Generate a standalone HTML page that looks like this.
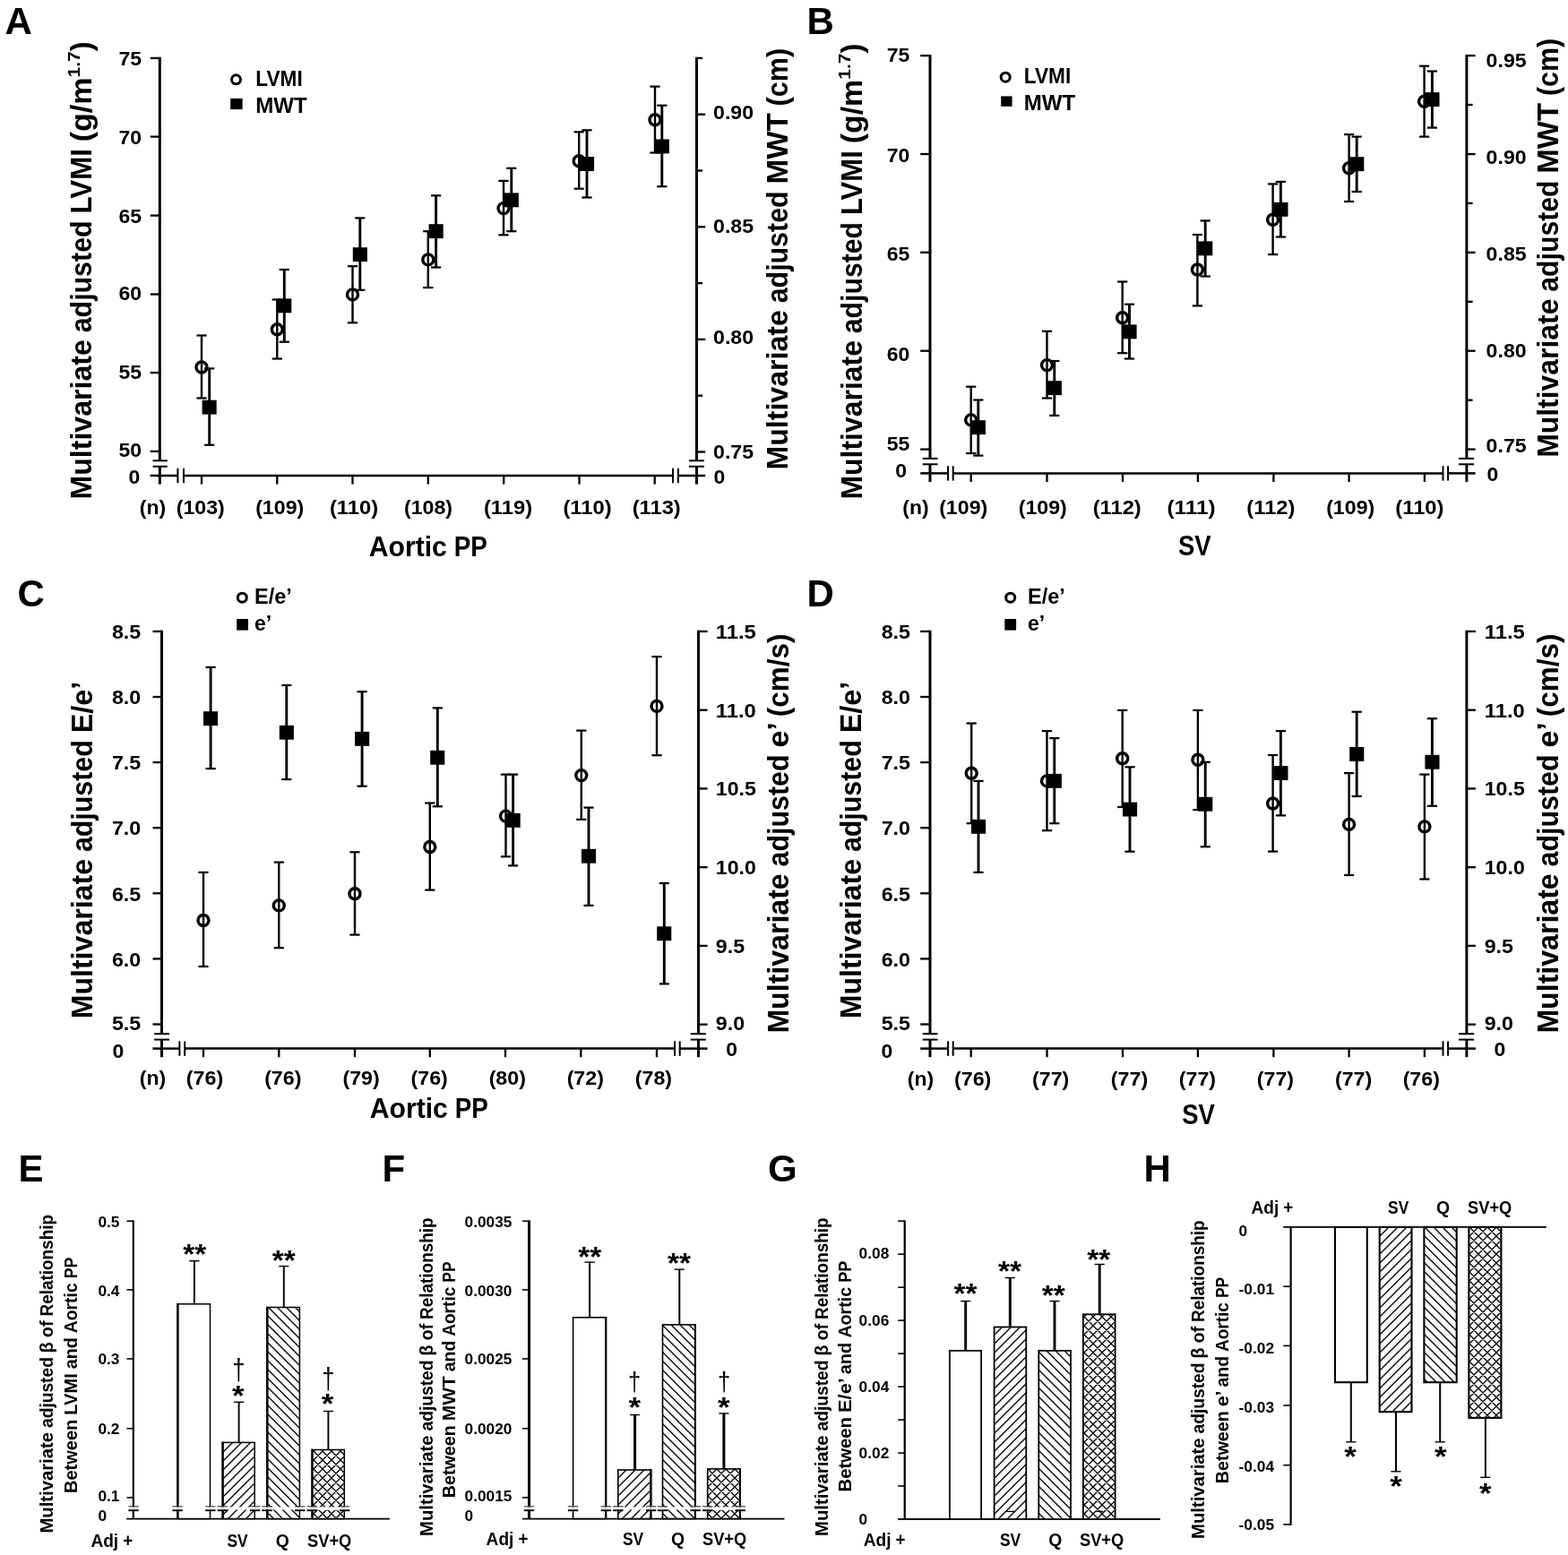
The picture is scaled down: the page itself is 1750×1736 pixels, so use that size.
<!DOCTYPE html>
<html><head><meta charset="utf-8"><title>Figure</title>
<style>
html,body{margin:0;padding:0;background:#fff;}
body{width:1750px;height:1736px;overflow:hidden;}
svg{display:block;}
svg text{font-family:"Liberation Sans",sans-serif;font-weight:bold;fill:#000;}
svg text.L{font-weight:bold;}
svg text.D{font-family:"Liberation Sans",sans-serif;font-weight:normal;}
svg line{stroke:#000;}
</style></head><body>
<svg width="1750" height="1736" viewBox="0 0 1750 1736">
<defs>
<pattern id="h1" width="10" height="10" patternUnits="userSpaceOnUse"><rect width="10" height="10" fill="#fff"/><path d="M-1 11L11 -1M-1 1L1 -1M9 11L11 9" stroke="#000" stroke-width="1.35"/></pattern>
<pattern id="h2" width="10" height="10" patternUnits="userSpaceOnUse"><rect width="10" height="10" fill="#fff"/><path d="M-1 -1L11 11M9 -1L11 1M-1 9L1 11" stroke="#000" stroke-width="1.35"/></pattern>
<pattern id="h3" width="10" height="10" patternUnits="userSpaceOnUse"><rect width="10" height="10" fill="#fff"/><path d="M-1 11L11 -1M-1 1L1 -1M9 11L11 9M-1 -1L11 11M9 -1L11 1M-1 9L1 11" stroke="#000" stroke-width="1.35"/></pattern>
</defs>
<rect x="0" y="0" width="1750" height="1736" fill="#fff"/>
<text x="5.6" y="37.7" font-size="42" class="L">A</text>
<text x="900.5" y="37.7" font-size="42" class="L">B</text>
<text x="19.5" y="677.0" font-size="42" class="L">C</text>
<text x="900.5" y="676.7" font-size="42" class="L">D</text>
<text x="20.5" y="1319.2" font-size="42" class="L">E</text>
<text x="426.5" y="1319.2" font-size="42" class="L">F</text>
<text x="857.0" y="1319.4" font-size="42" class="L">G</text>
<text x="1276.5" y="1319.2" font-size="42" class="L">H</text>
<line x1="178.3" y1="63.8" x2="178.3" y2="514.3" stroke-width="3.0"/>
<line x1="178.3" y1="520.8" x2="178.3" y2="540.6" stroke-width="3.0"/>
<line x1="167.7" y1="64.9" x2="178.3" y2="64.9" stroke-width="2.3"/>
<line x1="167.7" y1="152.6" x2="178.3" y2="152.6" stroke-width="2.3"/>
<line x1="167.7" y1="240.6" x2="178.3" y2="240.6" stroke-width="2.3"/>
<line x1="167.7" y1="328.5" x2="178.3" y2="328.5" stroke-width="2.3"/>
<line x1="167.7" y1="416.1" x2="178.3" y2="416.1" stroke-width="2.3"/>
<line x1="167.7" y1="503.9" x2="178.3" y2="503.9" stroke-width="2.3"/>
<line x1="170.5" y1="514.3" x2="186.8" y2="514.3" stroke-width="2.0"/>
<line x1="170.5" y1="520.8" x2="186.8" y2="520.8" stroke-width="2.0"/>
<line x1="777.5" y1="63.8" x2="777.5" y2="514.3" stroke-width="3.0"/>
<line x1="777.5" y1="520.8" x2="777.5" y2="540.6" stroke-width="3.0"/>
<line x1="777.5" y1="64.9" x2="784.2" y2="64.9" stroke-width="2.3"/>
<line x1="777.5" y1="127.7" x2="787.2" y2="127.7" stroke-width="2.3"/>
<line x1="777.5" y1="190.5" x2="784.2" y2="190.5" stroke-width="2.3"/>
<line x1="777.5" y1="253.3" x2="787.2" y2="253.3" stroke-width="2.3"/>
<line x1="777.5" y1="316.1" x2="784.2" y2="316.1" stroke-width="2.3"/>
<line x1="777.5" y1="378.9" x2="787.2" y2="378.9" stroke-width="2.3"/>
<line x1="777.5" y1="441.7" x2="784.2" y2="441.7" stroke-width="2.3"/>
<line x1="777.5" y1="504.5" x2="787.2" y2="504.5" stroke-width="2.3"/>
<line x1="769.0" y1="514.3" x2="785.8" y2="514.3" stroke-width="2.0"/>
<line x1="769.0" y1="520.8" x2="785.8" y2="520.8" stroke-width="2.0"/>
<line x1="167.7" y1="531.0" x2="198.4" y2="531.0" stroke-width="2.5"/>
<line x1="205.0" y1="531.0" x2="751.0" y2="531.0" stroke-width="2.5"/>
<line x1="756.9" y1="531.0" x2="787.2" y2="531.0" stroke-width="2.5"/>
<line x1="198.4" y1="522.8" x2="198.4" y2="539.2" stroke-width="2.0"/>
<line x1="205.0" y1="522.8" x2="205.0" y2="539.2" stroke-width="2.0"/>
<line x1="751.0" y1="522.8" x2="751.0" y2="539.2" stroke-width="2.0"/>
<line x1="756.9" y1="522.8" x2="756.9" y2="539.2" stroke-width="2.0"/>
<line x1="225.0" y1="531.0" x2="225.0" y2="540.6" stroke-width="2.3"/>
<line x1="309.3" y1="531.0" x2="309.3" y2="540.6" stroke-width="2.3"/>
<line x1="393.5" y1="531.0" x2="393.5" y2="540.6" stroke-width="2.3"/>
<line x1="477.8" y1="531.0" x2="477.8" y2="540.6" stroke-width="2.3"/>
<line x1="562.2" y1="531.0" x2="562.2" y2="540.6" stroke-width="2.3"/>
<line x1="646.5" y1="531.0" x2="646.5" y2="540.6" stroke-width="2.3"/>
<line x1="730.7" y1="531.0" x2="730.7" y2="540.6" stroke-width="2.3"/>
<text x="158.0" y="72.8" font-size="22.94" text-anchor="end" textLength="25.6" lengthAdjust="spacingAndGlyphs">75</text>
<text x="158.0" y="161.1" font-size="22.94" text-anchor="end" textLength="25.6" lengthAdjust="spacingAndGlyphs">70</text>
<text x="158.0" y="248.6" font-size="22.94" text-anchor="end" textLength="25.6" lengthAdjust="spacingAndGlyphs">65</text>
<text x="158.0" y="335.3" font-size="22.94" text-anchor="end" textLength="25.6" lengthAdjust="spacingAndGlyphs">60</text>
<text x="158.0" y="422.8" font-size="22.94" text-anchor="end" textLength="25.6" lengthAdjust="spacingAndGlyphs">55</text>
<text x="158.0" y="509.7" font-size="22.94" text-anchor="end" textLength="25.6" lengthAdjust="spacingAndGlyphs">50</text>
<text x="156.4" y="539.9" font-size="22.94" text-anchor="end" textLength="12.8" lengthAdjust="spacingAndGlyphs">0</text>
<text x="796.0" y="132.9" font-size="22.94" text-anchor="start" textLength="45.1" lengthAdjust="spacingAndGlyphs">0.90</text>
<text x="796.0" y="260.2" font-size="22.94" text-anchor="start" textLength="45.1" lengthAdjust="spacingAndGlyphs">0.85</text>
<text x="796.0" y="383.7" font-size="22.94" text-anchor="start" textLength="45.1" lengthAdjust="spacingAndGlyphs">0.80</text>
<text x="796.0" y="511.6" font-size="22.94" text-anchor="start" textLength="45.1" lengthAdjust="spacingAndGlyphs">0.75</text>
<text x="796.4" y="539.9" font-size="22.94" text-anchor="start" textLength="12.8" lengthAdjust="spacingAndGlyphs">0</text>
<text x="170.4" y="574.2" font-size="22.94" text-anchor="middle" textLength="29.3" lengthAdjust="spacingAndGlyphs">(n)</text>
<text x="223.8" y="574.2" font-size="22.94" text-anchor="middle" textLength="54.1" lengthAdjust="spacingAndGlyphs">(103)</text>
<text x="312.2" y="574.2" font-size="22.94" text-anchor="middle" textLength="54.1" lengthAdjust="spacingAndGlyphs">(109)</text>
<text x="395.0" y="574.2" font-size="22.94" text-anchor="middle" textLength="54.1" lengthAdjust="spacingAndGlyphs">(110)</text>
<text x="478.0" y="574.2" font-size="22.94" text-anchor="middle" textLength="54.1" lengthAdjust="spacingAndGlyphs">(108)</text>
<text x="567.0" y="574.2" font-size="22.94" text-anchor="middle" textLength="54.1" lengthAdjust="spacingAndGlyphs">(119)</text>
<text x="655.5" y="574.2" font-size="22.94" text-anchor="middle" textLength="54.1" lengthAdjust="spacingAndGlyphs">(110)</text>
<text x="732.7" y="574.2" font-size="22.94" text-anchor="middle" textLength="54.1" lengthAdjust="spacingAndGlyphs">(113)</text>
<text font-size="31.45"><tspan x="411.7" y="620.8" textLength="87.2" lengthAdjust="spacingAndGlyphs">Aortic</tspan> <tspan x="506.8" y="620.8" textLength="37.1" lengthAdjust="spacingAndGlyphs">PP</tspan></text>
<text transform="translate(102.4 557.5) rotate(-90)" font-size="32.43"><tspan x="0.0" y="0.0" textLength="178.3" lengthAdjust="spacingAndGlyphs">Multivariate</tspan> <tspan x="186.2" y="0.0" textLength="124.9" lengthAdjust="spacingAndGlyphs">adjusted</tspan> <tspan x="319.0" y="0.0" textLength="72.4" lengthAdjust="spacingAndGlyphs">LVMI</tspan> <tspan x="399.2" y="0.0" textLength="71.9" lengthAdjust="spacingAndGlyphs">(g/m</tspan></text>
<text x="0" y="0" transform="translate(88.7 86.4) rotate(-90)" font-size="18.22" text-anchor="start" textLength="29.2" lengthAdjust="spacingAndGlyphs">1.7</text>
<text x="0" y="0" transform="translate(102.4 57.2) rotate(-90)" font-size="32.43" text-anchor="start" textLength="10.9" lengthAdjust="spacingAndGlyphs">)</text>
<text transform="translate(878.6 524.5) rotate(-90)" font-size="32.43"><tspan x="0.0" y="0.0" textLength="178.3" lengthAdjust="spacingAndGlyphs">Multivariate</tspan> <tspan x="186.2" y="0.0" textLength="124.9" lengthAdjust="spacingAndGlyphs">adjusted</tspan> <tspan x="319.0" y="0.0" textLength="79.3" lengthAdjust="spacingAndGlyphs">MWT</tspan> <tspan x="406.1" y="0.0" textLength="64.6" lengthAdjust="spacingAndGlyphs">(cm)</tspan></text>
<circle cx="263.5" cy="88.8" r="5.0" fill="none" stroke="#000" stroke-width="3.0"/>
<text x="285.3" y="96.2" font-size="23.79" text-anchor="start" textLength="52.4" lengthAdjust="spacingAndGlyphs">LVMI</text>
<rect x="257.2" y="109.9" width="13.4" height="12.2" fill="#000"/>
<text x="285.3" y="125.9" font-size="23.79" text-anchor="start" textLength="57.5" lengthAdjust="spacingAndGlyphs">MWT</text>
<line x1="225.0" y1="374.5" x2="225.0" y2="444.5" stroke-width="2.4"/>
<line x1="219.4" y1="374.5" x2="230.6" y2="374.5" stroke-width="2.2"/>
<line x1="219.4" y1="444.5" x2="230.6" y2="444.5" stroke-width="2.2"/>
<line x1="233.7" y1="411.4" x2="233.7" y2="496.8" stroke-width="2.9"/>
<line x1="228.1" y1="411.4" x2="239.3" y2="411.4" stroke-width="2.2"/>
<line x1="228.1" y1="496.8" x2="239.3" y2="496.8" stroke-width="2.2"/>
<line x1="309.3" y1="334.4" x2="309.3" y2="400.5" stroke-width="2.4"/>
<line x1="303.7" y1="334.4" x2="314.9" y2="334.4" stroke-width="2.2"/>
<line x1="303.7" y1="400.5" x2="314.9" y2="400.5" stroke-width="2.2"/>
<line x1="317.3" y1="301.0" x2="317.3" y2="381.7" stroke-width="2.9"/>
<line x1="311.7" y1="301.0" x2="322.9" y2="301.0" stroke-width="2.2"/>
<line x1="311.7" y1="381.7" x2="322.9" y2="381.7" stroke-width="2.2"/>
<line x1="393.5" y1="297.2" x2="393.5" y2="360.3" stroke-width="2.4"/>
<line x1="387.9" y1="297.2" x2="399.1" y2="297.2" stroke-width="2.2"/>
<line x1="387.9" y1="360.3" x2="399.1" y2="360.3" stroke-width="2.2"/>
<line x1="401.8" y1="243.4" x2="401.8" y2="323.8" stroke-width="2.9"/>
<line x1="396.2" y1="243.4" x2="407.4" y2="243.4" stroke-width="2.2"/>
<line x1="396.2" y1="323.8" x2="407.4" y2="323.8" stroke-width="2.2"/>
<line x1="477.8" y1="258.2" x2="477.8" y2="321.1" stroke-width="2.4"/>
<line x1="472.2" y1="258.2" x2="483.4" y2="258.2" stroke-width="2.2"/>
<line x1="472.2" y1="321.1" x2="483.4" y2="321.1" stroke-width="2.2"/>
<line x1="486.6" y1="218.3" x2="486.6" y2="298.5" stroke-width="2.9"/>
<line x1="481.0" y1="218.3" x2="492.2" y2="218.3" stroke-width="2.2"/>
<line x1="481.0" y1="298.5" x2="492.2" y2="298.5" stroke-width="2.2"/>
<line x1="562.0" y1="201.9" x2="562.0" y2="262.3" stroke-width="2.4"/>
<line x1="556.4" y1="201.9" x2="567.6" y2="201.9" stroke-width="2.2"/>
<line x1="556.4" y1="262.3" x2="567.6" y2="262.3" stroke-width="2.2"/>
<line x1="570.8" y1="187.8" x2="570.8" y2="258.2" stroke-width="2.9"/>
<line x1="565.2" y1="187.8" x2="576.4" y2="187.8" stroke-width="2.2"/>
<line x1="565.2" y1="258.2" x2="576.4" y2="258.2" stroke-width="2.2"/>
<line x1="646.2" y1="147.3" x2="646.2" y2="210.7" stroke-width="2.4"/>
<line x1="640.6" y1="147.3" x2="651.8" y2="147.3" stroke-width="2.2"/>
<line x1="640.6" y1="210.7" x2="651.8" y2="210.7" stroke-width="2.2"/>
<line x1="655.0" y1="145.3" x2="655.0" y2="220.5" stroke-width="2.9"/>
<line x1="649.4" y1="145.3" x2="660.6" y2="145.3" stroke-width="2.2"/>
<line x1="649.4" y1="220.5" x2="660.6" y2="220.5" stroke-width="2.2"/>
<line x1="731.0" y1="96.6" x2="731.0" y2="170.5" stroke-width="2.4"/>
<line x1="725.4" y1="96.6" x2="736.6" y2="96.6" stroke-width="2.2"/>
<line x1="725.4" y1="170.5" x2="736.6" y2="170.5" stroke-width="2.2"/>
<line x1="738.8" y1="117.7" x2="738.8" y2="208.2" stroke-width="2.9"/>
<line x1="733.2" y1="117.7" x2="744.4" y2="117.7" stroke-width="2.2"/>
<line x1="733.2" y1="208.2" x2="744.4" y2="208.2" stroke-width="2.2"/>
<rect x="225.6" y="446.7" width="16.1" height="15.9" fill="#000" stroke="none"/>
<circle cx="225.0" cy="410.0" r="6.0" fill="none" stroke="#000" stroke-width="3.4"/>
<rect x="309.2" y="333.4" width="16.1" height="15.9" fill="#000" stroke="none"/>
<circle cx="309.3" cy="367.8" r="6.0" fill="none" stroke="#000" stroke-width="3.4"/>
<rect x="393.8" y="276.2" width="16.1" height="15.9" fill="#000" stroke="none"/>
<circle cx="393.5" cy="328.9" r="6.0" fill="none" stroke="#000" stroke-width="3.4"/>
<rect x="478.6" y="250.2" width="16.1" height="15.9" fill="#000" stroke="none"/>
<circle cx="477.8" cy="289.9" r="6.0" fill="none" stroke="#000" stroke-width="3.4"/>
<rect x="562.8" y="215.4" width="16.1" height="15.9" fill="#000" stroke="none"/>
<circle cx="562.0" cy="232.6" r="6.0" fill="none" stroke="#000" stroke-width="3.4"/>
<rect x="647.0" y="175.1" width="16.1" height="15.9" fill="#000" stroke="none"/>
<circle cx="646.2" cy="179.8" r="6.0" fill="none" stroke="#000" stroke-width="3.4"/>
<rect x="730.8" y="155.5" width="16.1" height="15.9" fill="#000" stroke="none"/>
<circle cx="731.0" cy="133.8" r="6.0" fill="none" stroke="#000" stroke-width="3.4"/>
<line x1="1038.0" y1="61.0" x2="1038.0" y2="511.9" stroke-width="3.0"/>
<line x1="1038.0" y1="518.3" x2="1038.0" y2="538.0" stroke-width="3.0"/>
<line x1="1027.2" y1="62.1" x2="1038.0" y2="62.1" stroke-width="2.3"/>
<line x1="1027.2" y1="172.0" x2="1038.0" y2="172.0" stroke-width="2.3"/>
<line x1="1027.2" y1="281.8" x2="1038.0" y2="281.8" stroke-width="2.3"/>
<line x1="1027.2" y1="391.7" x2="1038.0" y2="391.7" stroke-width="2.3"/>
<line x1="1027.2" y1="501.6" x2="1038.0" y2="501.6" stroke-width="2.3"/>
<line x1="1029.7" y1="511.9" x2="1046.5" y2="511.9" stroke-width="2.0"/>
<line x1="1029.7" y1="518.3" x2="1046.5" y2="518.3" stroke-width="2.0"/>
<line x1="1636.9" y1="61.0" x2="1636.9" y2="511.9" stroke-width="3.0"/>
<line x1="1636.9" y1="518.3" x2="1636.9" y2="538.0" stroke-width="3.0"/>
<line x1="1636.9" y1="62.1" x2="1646.6" y2="62.1" stroke-width="2.3"/>
<line x1="1636.9" y1="117.0" x2="1643.6" y2="117.0" stroke-width="2.3"/>
<line x1="1636.9" y1="172.0" x2="1646.6" y2="172.0" stroke-width="2.3"/>
<line x1="1636.9" y1="226.9" x2="1643.6" y2="226.9" stroke-width="2.3"/>
<line x1="1636.9" y1="281.9" x2="1646.6" y2="281.9" stroke-width="2.3"/>
<line x1="1636.9" y1="336.8" x2="1643.6" y2="336.8" stroke-width="2.3"/>
<line x1="1636.9" y1="391.7" x2="1646.6" y2="391.7" stroke-width="2.3"/>
<line x1="1636.9" y1="446.7" x2="1643.6" y2="446.7" stroke-width="2.3"/>
<line x1="1636.9" y1="501.6" x2="1646.6" y2="501.6" stroke-width="2.3"/>
<line x1="1628.0" y1="511.9" x2="1645.2" y2="511.9" stroke-width="2.0"/>
<line x1="1628.0" y1="518.3" x2="1645.2" y2="518.3" stroke-width="2.0"/>
<line x1="1027.2" y1="528.4" x2="1058.1" y2="528.4" stroke-width="2.5"/>
<line x1="1063.7" y1="528.4" x2="1610.5" y2="528.4" stroke-width="2.5"/>
<line x1="1616.1" y1="528.4" x2="1646.6" y2="528.4" stroke-width="2.5"/>
<line x1="1058.1" y1="520.2" x2="1058.1" y2="536.6" stroke-width="2.0"/>
<line x1="1063.7" y1="520.2" x2="1063.7" y2="536.6" stroke-width="2.0"/>
<line x1="1610.5" y1="520.2" x2="1610.5" y2="536.6" stroke-width="2.0"/>
<line x1="1616.1" y1="520.2" x2="1616.1" y2="536.6" stroke-width="2.0"/>
<line x1="1083.7" y1="528.4" x2="1083.7" y2="538.0" stroke-width="2.3"/>
<line x1="1168.5" y1="528.4" x2="1168.5" y2="538.0" stroke-width="2.3"/>
<line x1="1253.0" y1="528.4" x2="1253.0" y2="538.0" stroke-width="2.3"/>
<line x1="1336.9" y1="528.4" x2="1336.9" y2="538.0" stroke-width="2.3"/>
<line x1="1421.4" y1="528.4" x2="1421.4" y2="538.0" stroke-width="2.3"/>
<line x1="1505.6" y1="528.4" x2="1505.6" y2="538.0" stroke-width="2.3"/>
<line x1="1589.9" y1="528.4" x2="1589.9" y2="538.0" stroke-width="2.3"/>
<text x="1015.4" y="69.4" font-size="22.94" text-anchor="end" textLength="25.6" lengthAdjust="spacingAndGlyphs">75</text>
<text x="1015.4" y="180.8" font-size="22.94" text-anchor="end" textLength="25.6" lengthAdjust="spacingAndGlyphs">70</text>
<text x="1015.4" y="291.2" font-size="22.94" text-anchor="end" textLength="25.6" lengthAdjust="spacingAndGlyphs">65</text>
<text x="1015.4" y="403.3" font-size="22.94" text-anchor="end" textLength="25.6" lengthAdjust="spacingAndGlyphs">60</text>
<text x="1015.4" y="503.2" font-size="22.94" text-anchor="end" textLength="25.6" lengthAdjust="spacingAndGlyphs">55</text>
<text x="1012.0" y="532.8" font-size="22.94" text-anchor="end" textLength="12.8" lengthAdjust="spacingAndGlyphs">0</text>
<text x="1658.6" y="75.0" font-size="22.94" text-anchor="start" textLength="45.1" lengthAdjust="spacingAndGlyphs">0.95</text>
<text x="1658.6" y="183.1" font-size="22.94" text-anchor="start" textLength="45.1" lengthAdjust="spacingAndGlyphs">0.90</text>
<text x="1658.6" y="291.2" font-size="22.94" text-anchor="start" textLength="45.1" lengthAdjust="spacingAndGlyphs">0.85</text>
<text x="1658.6" y="398.8" font-size="22.94" text-anchor="start" textLength="45.1" lengthAdjust="spacingAndGlyphs">0.80</text>
<text x="1658.6" y="505.2" font-size="22.94" text-anchor="start" textLength="45.1" lengthAdjust="spacingAndGlyphs">0.75</text>
<text x="1659.4" y="536.6" font-size="22.94" text-anchor="start" textLength="12.8" lengthAdjust="spacingAndGlyphs">0</text>
<text x="1021.9" y="574.2" font-size="22.94" text-anchor="middle" textLength="29.3" lengthAdjust="spacingAndGlyphs">(n)</text>
<text x="1075.2" y="574.2" font-size="22.94" text-anchor="middle" textLength="54.1" lengthAdjust="spacingAndGlyphs">(109)</text>
<text x="1163.8" y="574.2" font-size="22.94" text-anchor="middle" textLength="54.1" lengthAdjust="spacingAndGlyphs">(109)</text>
<text x="1246.7" y="574.2" font-size="22.94" text-anchor="middle" textLength="54.1" lengthAdjust="spacingAndGlyphs">(112)</text>
<text x="1329.5" y="574.2" font-size="22.94" text-anchor="middle" textLength="54.1" lengthAdjust="spacingAndGlyphs">(111)</text>
<text x="1418.4" y="574.2" font-size="22.94" text-anchor="middle" textLength="54.1" lengthAdjust="spacingAndGlyphs">(112)</text>
<text x="1507.2" y="574.2" font-size="22.94" text-anchor="middle" textLength="54.1" lengthAdjust="spacingAndGlyphs">(109)</text>
<text x="1584.4" y="574.2" font-size="22.94" text-anchor="middle" textLength="54.1" lengthAdjust="spacingAndGlyphs">(110)</text>
<text x="1333.3" y="620.0" font-size="31.45" text-anchor="middle" textLength="36.7" lengthAdjust="spacingAndGlyphs">SV</text>
<text transform="translate(962.3 557.5) rotate(-90)" font-size="32.43"><tspan x="0.0" y="0.0" textLength="177.4" lengthAdjust="spacingAndGlyphs">Multivariate</tspan> <tspan x="185.3" y="0.0" textLength="124.3" lengthAdjust="spacingAndGlyphs">adjusted</tspan> <tspan x="317.4" y="0.0" textLength="72.0" lengthAdjust="spacingAndGlyphs">LVMI</tspan> <tspan x="397.2" y="0.0" textLength="71.5" lengthAdjust="spacingAndGlyphs">(g/m</tspan></text>
<text x="0" y="0" transform="translate(948.7 88.7) rotate(-90)" font-size="18.22" text-anchor="start" textLength="29.2" lengthAdjust="spacingAndGlyphs">1.7</text>
<text x="0" y="0" transform="translate(962.3 59.6) rotate(-90)" font-size="32.43" text-anchor="start" textLength="10.9" lengthAdjust="spacingAndGlyphs">)</text>
<text transform="translate(1738.8 510.8) rotate(-90)" font-size="32.43"><tspan x="0.0" y="0.0" textLength="177.2" lengthAdjust="spacingAndGlyphs">Multivariate</tspan> <tspan x="185.1" y="0.0" textLength="124.2" lengthAdjust="spacingAndGlyphs">adjusted</tspan> <tspan x="317.1" y="0.0" textLength="78.8" lengthAdjust="spacingAndGlyphs">MWT</tspan> <tspan x="403.7" y="0.0" textLength="64.3" lengthAdjust="spacingAndGlyphs">(cm)</tspan></text>
<circle cx="1122.2" cy="86.2" r="5.0" fill="none" stroke="#000" stroke-width="3.0"/>
<text x="1142.8" y="93.2" font-size="23.79" text-anchor="start" textLength="52.4" lengthAdjust="spacingAndGlyphs">LVMI</text>
<rect x="1117.2" y="107.4" width="12.4" height="11.4" fill="#000"/>
<text x="1142.8" y="122.9" font-size="23.79" text-anchor="start" textLength="57.5" lengthAdjust="spacingAndGlyphs">MWT</text>
<line x1="1083.7" y1="431.7" x2="1083.7" y2="506.1" stroke-width="2.4"/>
<line x1="1078.1" y1="431.7" x2="1089.3" y2="431.7" stroke-width="2.2"/>
<line x1="1078.1" y1="506.1" x2="1089.3" y2="506.1" stroke-width="2.2"/>
<line x1="1091.8" y1="446.5" x2="1091.8" y2="508.6" stroke-width="2.9"/>
<line x1="1086.2" y1="446.5" x2="1097.4" y2="446.5" stroke-width="2.2"/>
<line x1="1086.2" y1="508.6" x2="1097.4" y2="508.6" stroke-width="2.2"/>
<line x1="1168.5" y1="369.8" x2="1168.5" y2="444.5" stroke-width="2.4"/>
<line x1="1162.9" y1="369.8" x2="1174.1" y2="369.8" stroke-width="2.2"/>
<line x1="1162.9" y1="444.5" x2="1174.1" y2="444.5" stroke-width="2.2"/>
<line x1="1176.8" y1="403.0" x2="1176.8" y2="463.9" stroke-width="2.9"/>
<line x1="1171.2" y1="403.0" x2="1182.4" y2="403.0" stroke-width="2.2"/>
<line x1="1171.2" y1="463.9" x2="1182.4" y2="463.9" stroke-width="2.2"/>
<line x1="1252.7" y1="314.5" x2="1252.7" y2="394.2" stroke-width="2.4"/>
<line x1="1247.1" y1="314.5" x2="1258.3" y2="314.5" stroke-width="2.2"/>
<line x1="1247.1" y1="394.2" x2="1258.3" y2="394.2" stroke-width="2.2"/>
<line x1="1260.5" y1="339.7" x2="1260.5" y2="400.5" stroke-width="2.9"/>
<line x1="1254.9" y1="339.7" x2="1266.1" y2="339.7" stroke-width="2.2"/>
<line x1="1254.9" y1="400.5" x2="1266.1" y2="400.5" stroke-width="2.2"/>
<line x1="1336.4" y1="262.0" x2="1336.4" y2="341.4" stroke-width="2.4"/>
<line x1="1330.8" y1="262.0" x2="1342.0" y2="262.0" stroke-width="2.2"/>
<line x1="1330.8" y1="341.4" x2="1342.0" y2="341.4" stroke-width="2.2"/>
<line x1="1345.2" y1="246.4" x2="1345.2" y2="308.5" stroke-width="2.9"/>
<line x1="1339.6" y1="246.4" x2="1350.8" y2="246.4" stroke-width="2.2"/>
<line x1="1339.6" y1="308.5" x2="1350.8" y2="308.5" stroke-width="2.2"/>
<line x1="1420.6" y1="205.4" x2="1420.6" y2="284.1" stroke-width="2.4"/>
<line x1="1415.0" y1="205.4" x2="1426.2" y2="205.4" stroke-width="2.2"/>
<line x1="1415.0" y1="284.1" x2="1426.2" y2="284.1" stroke-width="2.2"/>
<line x1="1429.4" y1="202.9" x2="1429.4" y2="264.5" stroke-width="2.9"/>
<line x1="1423.8" y1="202.9" x2="1435.0" y2="202.9" stroke-width="2.2"/>
<line x1="1423.8" y1="264.5" x2="1435.0" y2="264.5" stroke-width="2.2"/>
<line x1="1505.6" y1="150.1" x2="1505.6" y2="225.0" stroke-width="2.4"/>
<line x1="1500.0" y1="150.1" x2="1511.2" y2="150.1" stroke-width="2.2"/>
<line x1="1500.0" y1="225.0" x2="1511.2" y2="225.0" stroke-width="2.2"/>
<line x1="1514.2" y1="152.6" x2="1514.2" y2="214.0" stroke-width="2.9"/>
<line x1="1508.6" y1="152.6" x2="1519.8" y2="152.6" stroke-width="2.2"/>
<line x1="1508.6" y1="214.0" x2="1519.8" y2="214.0" stroke-width="2.2"/>
<line x1="1589.6" y1="73.7" x2="1589.6" y2="152.6" stroke-width="2.4"/>
<line x1="1584.0" y1="73.7" x2="1595.2" y2="73.7" stroke-width="2.2"/>
<line x1="1584.0" y1="152.6" x2="1595.2" y2="152.6" stroke-width="2.2"/>
<line x1="1598.4" y1="79.5" x2="1598.4" y2="142.6" stroke-width="2.9"/>
<line x1="1592.8" y1="79.5" x2="1604.0" y2="79.5" stroke-width="2.2"/>
<line x1="1592.8" y1="142.6" x2="1604.0" y2="142.6" stroke-width="2.2"/>
<rect x="1083.8" y="469.2" width="16.1" height="15.9" fill="#000" stroke="none"/>
<circle cx="1083.7" cy="468.9" r="6.0" fill="none" stroke="#000" stroke-width="3.4"/>
<rect x="1168.8" y="425.2" width="16.1" height="15.9" fill="#000" stroke="none"/>
<circle cx="1168.5" cy="407.6" r="6.0" fill="none" stroke="#000" stroke-width="3.4"/>
<rect x="1252.5" y="362.4" width="16.1" height="15.9" fill="#000" stroke="none"/>
<circle cx="1252.7" cy="354.8" r="6.0" fill="none" stroke="#000" stroke-width="3.4"/>
<rect x="1337.2" y="269.4" width="16.1" height="15.9" fill="#000" stroke="none"/>
<circle cx="1336.4" cy="301.0" r="6.0" fill="none" stroke="#000" stroke-width="3.4"/>
<rect x="1421.4" y="225.9" width="16.1" height="15.9" fill="#000" stroke="none"/>
<circle cx="1420.6" cy="245.2" r="6.0" fill="none" stroke="#000" stroke-width="3.4"/>
<rect x="1506.2" y="175.2" width="16.1" height="15.9" fill="#000" stroke="none"/>
<circle cx="1505.6" cy="187.8" r="6.0" fill="none" stroke="#000" stroke-width="3.4"/>
<rect x="1590.4" y="103.1" width="16.1" height="15.9" fill="#000" stroke="none"/>
<circle cx="1589.6" cy="113.2" r="6.0" fill="none" stroke="#000" stroke-width="3.4"/>
<line x1="180.5" y1="703.8" x2="180.5" y2="1154.2" stroke-width="3.0"/>
<line x1="180.5" y1="1160.6" x2="180.5" y2="1180.2" stroke-width="3.0"/>
<line x1="170.5" y1="704.9" x2="180.5" y2="704.9" stroke-width="2.3"/>
<line x1="170.5" y1="778.0" x2="180.5" y2="778.0" stroke-width="2.3"/>
<line x1="170.5" y1="851.1" x2="180.5" y2="851.1" stroke-width="2.3"/>
<line x1="170.5" y1="924.2" x2="180.5" y2="924.2" stroke-width="2.3"/>
<line x1="170.5" y1="997.3" x2="180.5" y2="997.3" stroke-width="2.3"/>
<line x1="170.5" y1="1070.4" x2="180.5" y2="1070.4" stroke-width="2.3"/>
<line x1="170.5" y1="1143.5" x2="180.5" y2="1143.5" stroke-width="2.3"/>
<line x1="172.2" y1="1154.2" x2="189.1" y2="1154.2" stroke-width="2.0"/>
<line x1="172.2" y1="1160.6" x2="189.1" y2="1160.6" stroke-width="2.0"/>
<line x1="779.5" y1="703.8" x2="779.5" y2="1154.2" stroke-width="3.0"/>
<line x1="779.5" y1="1160.6" x2="779.5" y2="1180.2" stroke-width="3.0"/>
<line x1="779.5" y1="704.9" x2="789.6" y2="704.9" stroke-width="2.3"/>
<line x1="779.5" y1="792.7" x2="789.6" y2="792.7" stroke-width="2.3"/>
<line x1="779.5" y1="880.4" x2="789.6" y2="880.4" stroke-width="2.3"/>
<line x1="779.5" y1="968.2" x2="789.6" y2="968.2" stroke-width="2.3"/>
<line x1="779.5" y1="1055.9" x2="789.6" y2="1055.9" stroke-width="2.3"/>
<line x1="779.5" y1="1143.7" x2="789.6" y2="1143.7" stroke-width="2.3"/>
<line x1="770.7" y1="1154.2" x2="787.8" y2="1154.2" stroke-width="2.0"/>
<line x1="770.7" y1="1160.6" x2="787.8" y2="1160.6" stroke-width="2.0"/>
<line x1="170.5" y1="1170.6" x2="200.4" y2="1170.6" stroke-width="2.5"/>
<line x1="206.2" y1="1170.6" x2="753.1" y2="1170.6" stroke-width="2.5"/>
<line x1="758.7" y1="1170.6" x2="789.6" y2="1170.6" stroke-width="2.5"/>
<line x1="200.4" y1="1162.4" x2="200.4" y2="1178.8" stroke-width="2.0"/>
<line x1="206.2" y1="1162.4" x2="206.2" y2="1178.8" stroke-width="2.0"/>
<line x1="753.1" y1="1162.4" x2="753.1" y2="1178.8" stroke-width="2.0"/>
<line x1="758.7" y1="1162.4" x2="758.7" y2="1178.8" stroke-width="2.0"/>
<line x1="227.0" y1="1170.6" x2="227.0" y2="1180.2" stroke-width="2.3"/>
<line x1="311.3" y1="1170.6" x2="311.3" y2="1180.2" stroke-width="2.3"/>
<line x1="396.0" y1="1170.6" x2="396.0" y2="1180.2" stroke-width="2.3"/>
<line x1="479.8" y1="1170.6" x2="479.8" y2="1180.2" stroke-width="2.3"/>
<line x1="564.0" y1="1170.6" x2="564.0" y2="1180.2" stroke-width="2.3"/>
<line x1="648.3" y1="1170.6" x2="648.3" y2="1180.2" stroke-width="2.3"/>
<line x1="733.0" y1="1170.6" x2="733.0" y2="1180.2" stroke-width="2.3"/>
<text x="157.2" y="712.8" font-size="22.94" text-anchor="end" textLength="32.3" lengthAdjust="spacingAndGlyphs">8.5</text>
<text x="157.2" y="786.2" font-size="22.94" text-anchor="end" textLength="32.3" lengthAdjust="spacingAndGlyphs">8.0</text>
<text x="157.2" y="859.1" font-size="22.94" text-anchor="end" textLength="32.3" lengthAdjust="spacingAndGlyphs">7.5</text>
<text x="157.2" y="932.0" font-size="22.94" text-anchor="end" textLength="32.3" lengthAdjust="spacingAndGlyphs">7.0</text>
<text x="157.2" y="1006.2" font-size="22.94" text-anchor="end" textLength="32.3" lengthAdjust="spacingAndGlyphs">6.5</text>
<text x="157.2" y="1078.6" font-size="22.94" text-anchor="end" textLength="32.3" lengthAdjust="spacingAndGlyphs">6.0</text>
<text x="157.2" y="1150.3" font-size="22.94" text-anchor="end" textLength="32.3" lengthAdjust="spacingAndGlyphs">5.5</text>
<text x="138.4" y="1180.9" font-size="22.94" text-anchor="end" textLength="12.8" lengthAdjust="spacingAndGlyphs">0</text>
<text x="798.8" y="712.8" font-size="22.94" text-anchor="start" textLength="45.1" lengthAdjust="spacingAndGlyphs">11.5</text>
<text x="798.8" y="800.5" font-size="22.94" text-anchor="start" textLength="45.1" lengthAdjust="spacingAndGlyphs">11.0</text>
<text x="798.8" y="887.5" font-size="22.94" text-anchor="start" textLength="45.1" lengthAdjust="spacingAndGlyphs">10.5</text>
<text x="798.8" y="975.5" font-size="22.94" text-anchor="start" textLength="45.1" lengthAdjust="spacingAndGlyphs">10.0</text>
<text x="798.8" y="1063.5" font-size="22.94" text-anchor="start" textLength="32.3" lengthAdjust="spacingAndGlyphs">9.5</text>
<text x="798.8" y="1149.5" font-size="22.94" text-anchor="start" textLength="32.3" lengthAdjust="spacingAndGlyphs">9.0</text>
<text x="810.2" y="1179.2" font-size="22.94" text-anchor="start" textLength="12.8" lengthAdjust="spacingAndGlyphs">0</text>
<text x="170.4" y="1210.9" font-size="22.94" text-anchor="middle" textLength="29.3" lengthAdjust="spacingAndGlyphs">(n)</text>
<text x="228.5" y="1210.9" font-size="22.94" text-anchor="middle" textLength="41.3" lengthAdjust="spacingAndGlyphs">(76)</text>
<text x="315.8" y="1210.9" font-size="22.94" text-anchor="middle" textLength="41.3" lengthAdjust="spacingAndGlyphs">(76)</text>
<text x="403.1" y="1210.9" font-size="22.94" text-anchor="middle" textLength="41.3" lengthAdjust="spacingAndGlyphs">(79)</text>
<text x="479.2" y="1210.9" font-size="22.94" text-anchor="middle" textLength="41.3" lengthAdjust="spacingAndGlyphs">(76)</text>
<text x="566.3" y="1210.9" font-size="22.94" text-anchor="middle" textLength="41.3" lengthAdjust="spacingAndGlyphs">(80)</text>
<text x="653.3" y="1210.9" font-size="22.94" text-anchor="middle" textLength="41.3" lengthAdjust="spacingAndGlyphs">(72)</text>
<text x="729.4" y="1210.9" font-size="22.94" text-anchor="middle" textLength="41.3" lengthAdjust="spacingAndGlyphs">(78)</text>
<text font-size="31.45"><tspan x="412.7" y="1248.2" textLength="87.2" lengthAdjust="spacingAndGlyphs">Aortic</tspan> <tspan x="507.8" y="1248.2" textLength="37.1" lengthAdjust="spacingAndGlyphs">PP</tspan></text>
<text transform="translate(102.6 1137.3) rotate(-90)" font-size="32.43"><tspan x="0.0" y="0.0" textLength="178.3" lengthAdjust="spacingAndGlyphs">Multivariate</tspan> <tspan x="186.2" y="0.0" textLength="124.9" lengthAdjust="spacingAndGlyphs">adjusted</tspan> <tspan x="319.0" y="0.0" textLength="57.6" lengthAdjust="spacingAndGlyphs">E/e’</tspan></text>
<text transform="translate(880.0 1153.6) rotate(-90)" font-size="32.43"><tspan x="0.0" y="0.0" textLength="178.3" lengthAdjust="spacingAndGlyphs">Multivariate</tspan> <tspan x="186.2" y="0.0" textLength="124.9" lengthAdjust="spacingAndGlyphs">adjusted</tspan> <tspan x="319.0" y="0.0" textLength="26.5" lengthAdjust="spacingAndGlyphs">e’</tspan> <tspan x="353.4" y="0.0" textLength="92.6" lengthAdjust="spacingAndGlyphs">(cm/s)</tspan></text>
<circle cx="270.3" cy="667.2" r="5.0" fill="none" stroke="#000" stroke-width="3.0"/>
<text x="284.0" y="674.2" font-size="23.79" text-anchor="start" textLength="41.8" lengthAdjust="spacingAndGlyphs">E/e’</text>
<rect x="264.2" y="691.0" width="12.8" height="12.6" fill="#000"/>
<text x="284.0" y="704.3" font-size="23.79" text-anchor="start" textLength="19.2" lengthAdjust="spacingAndGlyphs">e’</text>
<line x1="227.0" y1="973.9" x2="227.0" y2="1079.0" stroke-width="2.4"/>
<line x1="221.4" y1="973.9" x2="232.6" y2="973.9" stroke-width="2.2"/>
<line x1="221.4" y1="1079.0" x2="232.6" y2="1079.0" stroke-width="2.2"/>
<line x1="235.1" y1="744.9" x2="235.1" y2="858.1" stroke-width="2.9"/>
<line x1="229.5" y1="744.9" x2="240.7" y2="744.9" stroke-width="2.2"/>
<line x1="229.5" y1="858.1" x2="240.7" y2="858.1" stroke-width="2.2"/>
<line x1="311.3" y1="962.6" x2="311.3" y2="1058.2" stroke-width="2.4"/>
<line x1="305.7" y1="962.6" x2="316.9" y2="962.6" stroke-width="2.2"/>
<line x1="305.7" y1="1058.2" x2="316.9" y2="1058.2" stroke-width="2.2"/>
<line x1="319.8" y1="765.0" x2="319.8" y2="870.1" stroke-width="2.9"/>
<line x1="314.2" y1="765.0" x2="325.4" y2="765.0" stroke-width="2.2"/>
<line x1="314.2" y1="870.1" x2="325.4" y2="870.1" stroke-width="2.2"/>
<line x1="396.0" y1="951.3" x2="396.0" y2="1043.6" stroke-width="2.4"/>
<line x1="390.4" y1="951.3" x2="401.6" y2="951.3" stroke-width="2.2"/>
<line x1="390.4" y1="1043.6" x2="401.6" y2="1043.6" stroke-width="2.2"/>
<line x1="404.1" y1="772.1" x2="404.1" y2="877.7" stroke-width="2.9"/>
<line x1="398.5" y1="772.1" x2="409.7" y2="772.1" stroke-width="2.2"/>
<line x1="398.5" y1="877.7" x2="409.7" y2="877.7" stroke-width="2.2"/>
<line x1="479.8" y1="896.5" x2="479.8" y2="993.6" stroke-width="2.4"/>
<line x1="474.2" y1="896.5" x2="485.4" y2="896.5" stroke-width="2.2"/>
<line x1="474.2" y1="993.6" x2="485.4" y2="993.6" stroke-width="2.2"/>
<line x1="488.3" y1="790.4" x2="488.3" y2="900.3" stroke-width="2.9"/>
<line x1="482.7" y1="790.4" x2="493.9" y2="790.4" stroke-width="2.2"/>
<line x1="482.7" y1="900.3" x2="493.9" y2="900.3" stroke-width="2.2"/>
<line x1="564.5" y1="864.6" x2="564.5" y2="956.3" stroke-width="2.4"/>
<line x1="558.9" y1="864.6" x2="570.1" y2="864.6" stroke-width="2.2"/>
<line x1="558.9" y1="956.3" x2="570.1" y2="956.3" stroke-width="2.2"/>
<line x1="572.6" y1="864.6" x2="572.6" y2="966.4" stroke-width="2.9"/>
<line x1="567.0" y1="864.6" x2="578.2" y2="864.6" stroke-width="2.2"/>
<line x1="567.0" y1="966.4" x2="578.2" y2="966.4" stroke-width="2.2"/>
<line x1="648.8" y1="815.6" x2="648.8" y2="914.9" stroke-width="2.4"/>
<line x1="643.2" y1="815.6" x2="654.4" y2="815.6" stroke-width="2.2"/>
<line x1="643.2" y1="914.9" x2="654.4" y2="914.9" stroke-width="2.2"/>
<line x1="657.0" y1="901.6" x2="657.0" y2="1010.9" stroke-width="2.9"/>
<line x1="651.4" y1="901.6" x2="662.6" y2="901.6" stroke-width="2.2"/>
<line x1="651.4" y1="1010.9" x2="662.6" y2="1010.9" stroke-width="2.2"/>
<line x1="733.0" y1="733.1" x2="733.0" y2="843.2" stroke-width="2.4"/>
<line x1="727.4" y1="733.1" x2="738.6" y2="733.1" stroke-width="2.2"/>
<line x1="727.4" y1="843.2" x2="738.6" y2="843.2" stroke-width="2.2"/>
<line x1="741.3" y1="986.0" x2="741.3" y2="1098.4" stroke-width="2.9"/>
<line x1="735.7" y1="986.0" x2="746.9" y2="986.0" stroke-width="2.2"/>
<line x1="735.7" y1="1098.4" x2="746.9" y2="1098.4" stroke-width="2.2"/>
<rect x="227.0" y="794.2" width="16.1" height="15.9" fill="#000" stroke="none"/>
<circle cx="227.0" cy="1027.5" r="6.0" fill="none" stroke="#000" stroke-width="3.4"/>
<rect x="311.8" y="809.8" width="16.1" height="15.9" fill="#000" stroke="none"/>
<circle cx="311.3" cy="1010.9" r="6.0" fill="none" stroke="#000" stroke-width="3.4"/>
<rect x="396.1" y="816.9" width="16.1" height="15.9" fill="#000" stroke="none"/>
<circle cx="396.0" cy="997.8" r="6.0" fill="none" stroke="#000" stroke-width="3.4"/>
<rect x="480.2" y="837.8" width="16.1" height="15.9" fill="#000" stroke="none"/>
<circle cx="479.8" cy="945.5" r="6.0" fill="none" stroke="#000" stroke-width="3.4"/>
<rect x="564.6" y="907.9" width="16.1" height="15.9" fill="#000" stroke="none"/>
<circle cx="564.5" cy="911.1" r="6.0" fill="none" stroke="#000" stroke-width="3.4"/>
<rect x="649.0" y="947.8" width="16.1" height="15.9" fill="#000" stroke="none"/>
<circle cx="648.8" cy="865.6" r="6.0" fill="none" stroke="#000" stroke-width="3.4"/>
<rect x="733.2" y="1034.3" width="16.1" height="15.9" fill="#000" stroke="none"/>
<circle cx="733.0" cy="788.4" r="6.0" fill="none" stroke="#000" stroke-width="3.4"/>
<line x1="1038.0" y1="703.8" x2="1038.0" y2="1154.2" stroke-width="3.0"/>
<line x1="1038.0" y1="1160.6" x2="1038.0" y2="1180.2" stroke-width="3.0"/>
<line x1="1027.2" y1="704.9" x2="1038.0" y2="704.9" stroke-width="2.3"/>
<line x1="1027.2" y1="778.0" x2="1038.0" y2="778.0" stroke-width="2.3"/>
<line x1="1027.2" y1="851.1" x2="1038.0" y2="851.1" stroke-width="2.3"/>
<line x1="1027.2" y1="924.2" x2="1038.0" y2="924.2" stroke-width="2.3"/>
<line x1="1027.2" y1="997.3" x2="1038.0" y2="997.3" stroke-width="2.3"/>
<line x1="1027.2" y1="1070.4" x2="1038.0" y2="1070.4" stroke-width="2.3"/>
<line x1="1027.2" y1="1143.5" x2="1038.0" y2="1143.5" stroke-width="2.3"/>
<line x1="1029.7" y1="1154.2" x2="1046.5" y2="1154.2" stroke-width="2.0"/>
<line x1="1029.7" y1="1160.6" x2="1046.5" y2="1160.6" stroke-width="2.0"/>
<line x1="1636.9" y1="703.8" x2="1636.9" y2="1154.2" stroke-width="3.0"/>
<line x1="1636.9" y1="1160.6" x2="1636.9" y2="1180.2" stroke-width="3.0"/>
<line x1="1636.9" y1="704.9" x2="1646.9" y2="704.9" stroke-width="2.3"/>
<line x1="1636.9" y1="792.7" x2="1646.9" y2="792.7" stroke-width="2.3"/>
<line x1="1636.9" y1="880.4" x2="1646.9" y2="880.4" stroke-width="2.3"/>
<line x1="1636.9" y1="968.2" x2="1646.9" y2="968.2" stroke-width="2.3"/>
<line x1="1636.9" y1="1055.9" x2="1646.9" y2="1055.9" stroke-width="2.3"/>
<line x1="1636.9" y1="1143.7" x2="1646.9" y2="1143.7" stroke-width="2.3"/>
<line x1="1628.0" y1="1154.2" x2="1645.2" y2="1154.2" stroke-width="2.0"/>
<line x1="1628.0" y1="1160.6" x2="1645.2" y2="1160.6" stroke-width="2.0"/>
<line x1="1027.2" y1="1170.6" x2="1058.1" y2="1170.6" stroke-width="2.5"/>
<line x1="1063.7" y1="1170.6" x2="1610.5" y2="1170.6" stroke-width="2.5"/>
<line x1="1616.1" y1="1170.6" x2="1646.9" y2="1170.6" stroke-width="2.5"/>
<line x1="1058.1" y1="1162.4" x2="1058.1" y2="1178.8" stroke-width="2.0"/>
<line x1="1063.7" y1="1162.4" x2="1063.7" y2="1178.8" stroke-width="2.0"/>
<line x1="1610.5" y1="1162.4" x2="1610.5" y2="1178.8" stroke-width="2.0"/>
<line x1="1616.1" y1="1162.4" x2="1616.1" y2="1178.8" stroke-width="2.0"/>
<line x1="1083.7" y1="1170.6" x2="1083.7" y2="1180.2" stroke-width="2.3"/>
<line x1="1168.5" y1="1170.6" x2="1168.5" y2="1180.2" stroke-width="2.3"/>
<line x1="1253.0" y1="1170.6" x2="1253.0" y2="1180.2" stroke-width="2.3"/>
<line x1="1336.9" y1="1170.6" x2="1336.9" y2="1180.2" stroke-width="2.3"/>
<line x1="1421.4" y1="1170.6" x2="1421.4" y2="1180.2" stroke-width="2.3"/>
<line x1="1505.6" y1="1170.6" x2="1505.6" y2="1180.2" stroke-width="2.3"/>
<line x1="1589.9" y1="1170.6" x2="1589.9" y2="1180.2" stroke-width="2.3"/>
<text x="1016.0" y="712.8" font-size="22.94" text-anchor="end" textLength="32.3" lengthAdjust="spacingAndGlyphs">8.5</text>
<text x="1016.0" y="786.2" font-size="22.94" text-anchor="end" textLength="32.3" lengthAdjust="spacingAndGlyphs">8.0</text>
<text x="1016.0" y="859.1" font-size="22.94" text-anchor="end" textLength="32.3" lengthAdjust="spacingAndGlyphs">7.5</text>
<text x="1016.0" y="932.0" font-size="22.94" text-anchor="end" textLength="32.3" lengthAdjust="spacingAndGlyphs">7.0</text>
<text x="1016.0" y="1006.2" font-size="22.94" text-anchor="end" textLength="32.3" lengthAdjust="spacingAndGlyphs">6.5</text>
<text x="1016.0" y="1078.6" font-size="22.94" text-anchor="end" textLength="32.3" lengthAdjust="spacingAndGlyphs">6.0</text>
<text x="1016.0" y="1150.3" font-size="22.94" text-anchor="end" textLength="32.3" lengthAdjust="spacingAndGlyphs">5.5</text>
<text x="996.3" y="1180.9" font-size="22.94" text-anchor="end" textLength="12.8" lengthAdjust="spacingAndGlyphs">0</text>
<text x="1656.7" y="712.8" font-size="22.94" text-anchor="start" textLength="45.1" lengthAdjust="spacingAndGlyphs">11.5</text>
<text x="1656.7" y="800.5" font-size="22.94" text-anchor="start" textLength="45.1" lengthAdjust="spacingAndGlyphs">11.0</text>
<text x="1656.7" y="887.5" font-size="22.94" text-anchor="start" textLength="45.1" lengthAdjust="spacingAndGlyphs">10.5</text>
<text x="1656.7" y="975.5" font-size="22.94" text-anchor="start" textLength="45.1" lengthAdjust="spacingAndGlyphs">10.0</text>
<text x="1656.7" y="1063.5" font-size="22.94" text-anchor="start" textLength="32.3" lengthAdjust="spacingAndGlyphs">9.5</text>
<text x="1656.7" y="1149.5" font-size="22.94" text-anchor="start" textLength="32.3" lengthAdjust="spacingAndGlyphs">9.0</text>
<text x="1667.6" y="1179.2" font-size="22.94" text-anchor="start" textLength="12.8" lengthAdjust="spacingAndGlyphs">0</text>
<text x="1027.5" y="1211.6" font-size="22.94" text-anchor="middle" textLength="29.3" lengthAdjust="spacingAndGlyphs">(n)</text>
<text x="1085.7" y="1211.6" font-size="22.94" text-anchor="middle" textLength="41.3" lengthAdjust="spacingAndGlyphs">(76)</text>
<text x="1172.7" y="1211.6" font-size="22.94" text-anchor="middle" textLength="41.3" lengthAdjust="spacingAndGlyphs">(77)</text>
<text x="1260.5" y="1211.6" font-size="22.94" text-anchor="middle" textLength="41.3" lengthAdjust="spacingAndGlyphs">(77)</text>
<text x="1336.4" y="1211.6" font-size="22.94" text-anchor="middle" textLength="41.3" lengthAdjust="spacingAndGlyphs">(77)</text>
<text x="1423.4" y="1211.6" font-size="22.94" text-anchor="middle" textLength="41.3" lengthAdjust="spacingAndGlyphs">(77)</text>
<text x="1510.6" y="1211.6" font-size="22.94" text-anchor="middle" textLength="41.3" lengthAdjust="spacingAndGlyphs">(77)</text>
<text x="1586.3" y="1211.6" font-size="22.94" text-anchor="middle" textLength="41.3" lengthAdjust="spacingAndGlyphs">(76)</text>
<text x="1337.6" y="1254.5" font-size="31.45" text-anchor="middle" textLength="36.7" lengthAdjust="spacingAndGlyphs">SV</text>
<text transform="translate(961.0 1137.3) rotate(-90)" font-size="32.43"><tspan x="0.0" y="0.0" textLength="178.3" lengthAdjust="spacingAndGlyphs">Multivariate</tspan> <tspan x="186.2" y="0.0" textLength="124.9" lengthAdjust="spacingAndGlyphs">adjusted</tspan> <tspan x="319.0" y="0.0" textLength="57.6" lengthAdjust="spacingAndGlyphs">E/e’</tspan></text>
<text transform="translate(1738.6 1153.6) rotate(-90)" font-size="32.43"><tspan x="0.0" y="0.0" textLength="178.3" lengthAdjust="spacingAndGlyphs">Multivariate</tspan> <tspan x="186.2" y="0.0" textLength="124.9" lengthAdjust="spacingAndGlyphs">adjusted</tspan> <tspan x="319.0" y="0.0" textLength="26.5" lengthAdjust="spacingAndGlyphs">e’</tspan> <tspan x="353.4" y="0.0" textLength="92.6" lengthAdjust="spacingAndGlyphs">(cm/s)</tspan></text>
<circle cx="1127.7" cy="667.2" r="5.0" fill="none" stroke="#000" stroke-width="3.0"/>
<text x="1147.0" y="674.2" font-size="23.79" text-anchor="start" textLength="41.8" lengthAdjust="spacingAndGlyphs">E/e’</text>
<rect x="1121.3" y="691.0" width="12.8" height="12.6" fill="#000"/>
<text x="1147.0" y="704.3" font-size="23.79" text-anchor="start" textLength="19.2" lengthAdjust="spacingAndGlyphs">e’</text>
<line x1="1084.2" y1="807.5" x2="1084.2" y2="919.2" stroke-width="2.4"/>
<line x1="1078.6" y1="807.5" x2="1089.8" y2="807.5" stroke-width="2.2"/>
<line x1="1078.6" y1="919.2" x2="1089.8" y2="919.2" stroke-width="2.2"/>
<line x1="1092.0" y1="871.9" x2="1092.0" y2="973.9" stroke-width="2.9"/>
<line x1="1086.4" y1="871.9" x2="1097.6" y2="871.9" stroke-width="2.2"/>
<line x1="1086.4" y1="973.9" x2="1097.6" y2="973.9" stroke-width="2.2"/>
<line x1="1168.5" y1="816.1" x2="1168.5" y2="927.2" stroke-width="2.4"/>
<line x1="1162.9" y1="816.1" x2="1174.1" y2="816.1" stroke-width="2.2"/>
<line x1="1162.9" y1="927.2" x2="1174.1" y2="927.2" stroke-width="2.2"/>
<line x1="1176.8" y1="824.1" x2="1176.8" y2="919.2" stroke-width="2.9"/>
<line x1="1171.2" y1="824.1" x2="1182.4" y2="824.1" stroke-width="2.2"/>
<line x1="1171.2" y1="919.2" x2="1182.4" y2="919.2" stroke-width="2.2"/>
<line x1="1252.7" y1="792.9" x2="1252.7" y2="901.0" stroke-width="2.4"/>
<line x1="1247.1" y1="792.9" x2="1258.3" y2="792.9" stroke-width="2.2"/>
<line x1="1247.1" y1="901.0" x2="1258.3" y2="901.0" stroke-width="2.2"/>
<line x1="1261.0" y1="856.3" x2="1261.0" y2="950.7" stroke-width="2.9"/>
<line x1="1255.4" y1="856.3" x2="1266.6" y2="856.3" stroke-width="2.2"/>
<line x1="1255.4" y1="950.7" x2="1266.6" y2="950.7" stroke-width="2.2"/>
<line x1="1336.9" y1="792.9" x2="1336.9" y2="904.1" stroke-width="2.4"/>
<line x1="1331.3" y1="792.9" x2="1342.5" y2="792.9" stroke-width="2.2"/>
<line x1="1331.3" y1="904.1" x2="1342.5" y2="904.1" stroke-width="2.2"/>
<line x1="1345.2" y1="850.8" x2="1345.2" y2="945.3" stroke-width="2.9"/>
<line x1="1339.6" y1="850.8" x2="1350.8" y2="850.8" stroke-width="2.2"/>
<line x1="1339.6" y1="945.3" x2="1350.8" y2="945.3" stroke-width="2.2"/>
<line x1="1420.6" y1="843.0" x2="1420.6" y2="950.6" stroke-width="2.4"/>
<line x1="1415.0" y1="843.0" x2="1426.2" y2="843.0" stroke-width="2.2"/>
<line x1="1415.0" y1="950.6" x2="1426.2" y2="950.6" stroke-width="2.2"/>
<line x1="1429.4" y1="816.1" x2="1429.4" y2="910.4" stroke-width="2.9"/>
<line x1="1423.8" y1="816.1" x2="1435.0" y2="816.1" stroke-width="2.2"/>
<line x1="1423.8" y1="910.4" x2="1435.0" y2="910.4" stroke-width="2.2"/>
<line x1="1505.6" y1="863.1" x2="1505.6" y2="977.0" stroke-width="2.4"/>
<line x1="1500.0" y1="863.1" x2="1511.2" y2="863.1" stroke-width="2.2"/>
<line x1="1500.0" y1="977.0" x2="1511.2" y2="977.0" stroke-width="2.2"/>
<line x1="1514.2" y1="794.7" x2="1514.2" y2="889.0" stroke-width="2.9"/>
<line x1="1508.6" y1="794.7" x2="1519.8" y2="794.7" stroke-width="2.2"/>
<line x1="1508.6" y1="889.0" x2="1519.8" y2="889.0" stroke-width="2.2"/>
<line x1="1589.9" y1="864.6" x2="1589.9" y2="981.5" stroke-width="2.4"/>
<line x1="1584.3" y1="864.6" x2="1595.5" y2="864.6" stroke-width="2.2"/>
<line x1="1584.3" y1="981.5" x2="1595.5" y2="981.5" stroke-width="2.2"/>
<line x1="1598.4" y1="802.2" x2="1598.4" y2="899.8" stroke-width="2.9"/>
<line x1="1592.8" y1="802.2" x2="1604.0" y2="802.2" stroke-width="2.2"/>
<line x1="1592.8" y1="899.8" x2="1604.0" y2="899.8" stroke-width="2.2"/>
<rect x="1084.0" y="914.9" width="16.1" height="15.9" fill="#000" stroke="none"/>
<circle cx="1084.2" cy="863.3" r="6.0" fill="none" stroke="#000" stroke-width="3.4"/>
<rect x="1168.8" y="863.9" width="16.1" height="15.9" fill="#000" stroke="none"/>
<circle cx="1168.5" cy="871.9" r="6.0" fill="none" stroke="#000" stroke-width="3.4"/>
<rect x="1253.0" y="895.6" width="16.1" height="15.9" fill="#000" stroke="none"/>
<circle cx="1252.7" cy="846.7" r="6.0" fill="none" stroke="#000" stroke-width="3.4"/>
<rect x="1337.2" y="889.8" width="16.1" height="15.9" fill="#000" stroke="none"/>
<circle cx="1336.9" cy="848.3" r="6.0" fill="none" stroke="#000" stroke-width="3.4"/>
<rect x="1421.4" y="855.1" width="16.1" height="15.9" fill="#000" stroke="none"/>
<circle cx="1420.6" cy="897.0" r="6.0" fill="none" stroke="#000" stroke-width="3.4"/>
<rect x="1506.2" y="834.0" width="16.1" height="15.9" fill="#000" stroke="none"/>
<circle cx="1505.6" cy="920.4" r="6.0" fill="none" stroke="#000" stroke-width="3.4"/>
<rect x="1590.4" y="842.8" width="16.1" height="15.9" fill="#000" stroke="none"/>
<circle cx="1589.9" cy="922.9" r="6.0" fill="none" stroke="#000" stroke-width="3.4"/>
<line x1="148.8" y1="1362.4" x2="148.8" y2="1695.5" stroke-width="2.1"/>
<line x1="141.2" y1="1695.6" x2="434.9" y2="1695.6" stroke-width="1.9"/>
<line x1="141.5" y1="1363.2" x2="149.0" y2="1363.2" stroke-width="1.6"/>
<line x1="141.5" y1="1439.9" x2="149.0" y2="1439.9" stroke-width="1.6"/>
<line x1="141.5" y1="1517.0" x2="149.0" y2="1517.0" stroke-width="1.6"/>
<line x1="141.5" y1="1594.8" x2="149.0" y2="1594.8" stroke-width="1.6"/>
<line x1="141.5" y1="1671.9" x2="149.0" y2="1671.9" stroke-width="1.6"/>
<line x1="216.9" y1="1455.8" x2="216.9" y2="1407.7" stroke-width="1.9"/>
<line x1="211.3" y1="1407.7" x2="222.5" y2="1407.7" stroke-width="1.4"/>
<rect x="198.1" y="1455.8" width="36.4" height="239.7" fill="#fff" stroke="#000" stroke-width="1.5"/>
<line x1="198.5" y1="1455.0" x2="198.5" y2="1695.5" stroke-width="2.3"/>
<line x1="266.6" y1="1610.4" x2="266.6" y2="1565.3" stroke-width="1.9"/>
<line x1="261.0" y1="1565.3" x2="272.2" y2="1565.3" stroke-width="1.4"/>
<rect x="248.3" y="1610.4" width="35.9" height="85.1" fill="url(#h1)" stroke="#000" stroke-width="1.5"/>
<line x1="248.7" y1="1609.7" x2="248.7" y2="1695.5" stroke-width="2.3"/>
<line x1="316.8" y1="1459.5" x2="316.8" y2="1413.6" stroke-width="1.9"/>
<line x1="311.2" y1="1413.6" x2="322.4" y2="1413.6" stroke-width="1.4"/>
<rect x="298.0" y="1459.5" width="36.4" height="236.0" fill="url(#h2)" stroke="#000" stroke-width="1.5"/>
<line x1="298.4" y1="1458.8" x2="298.4" y2="1695.5" stroke-width="2.3"/>
<line x1="366.4" y1="1618.5" x2="366.4" y2="1575.5" stroke-width="1.9"/>
<line x1="360.8" y1="1575.5" x2="372.0" y2="1575.5" stroke-width="1.4"/>
<rect x="348.2" y="1618.5" width="36.1" height="77.0" fill="url(#h3)" stroke="#000" stroke-width="1.5"/>
<line x1="348.6" y1="1617.8" x2="348.6" y2="1695.5" stroke-width="2.3"/>
<rect x="192.0" y="1682.5" width="199.0" height="2.9" fill="#fff"/>
<rect x="142.0" y="1682.5" width="14.0" height="2.9" fill="#fff"/>
<line x1="143.3" y1="1681.8" x2="154.7" y2="1681.8" stroke-width="1.2" style="stroke:#444"/>
<line x1="143.3" y1="1686.2" x2="154.7" y2="1686.2" stroke-width="1.9"/>
<line x1="192.4" y1="1681.8" x2="203.8" y2="1681.8" stroke-width="1.2" style="stroke:#444"/>
<line x1="192.4" y1="1686.2" x2="203.8" y2="1686.2" stroke-width="1.9"/>
<line x1="229.2" y1="1681.8" x2="240.6" y2="1681.8" stroke-width="1.2" style="stroke:#444"/>
<line x1="229.2" y1="1686.2" x2="240.6" y2="1686.2" stroke-width="1.9"/>
<line x1="242.6" y1="1681.8" x2="254.0" y2="1681.8" stroke-width="1.2" style="stroke:#444"/>
<line x1="242.6" y1="1686.2" x2="254.0" y2="1686.2" stroke-width="1.9"/>
<line x1="278.9" y1="1681.8" x2="290.3" y2="1681.8" stroke-width="1.2" style="stroke:#444"/>
<line x1="278.9" y1="1686.2" x2="290.3" y2="1686.2" stroke-width="1.9"/>
<line x1="292.3" y1="1681.8" x2="303.7" y2="1681.8" stroke-width="1.2" style="stroke:#444"/>
<line x1="292.3" y1="1686.2" x2="303.7" y2="1686.2" stroke-width="1.9"/>
<line x1="329.1" y1="1681.8" x2="340.5" y2="1681.8" stroke-width="1.2" style="stroke:#444"/>
<line x1="329.1" y1="1686.2" x2="340.5" y2="1686.2" stroke-width="1.9"/>
<line x1="342.5" y1="1681.8" x2="353.9" y2="1681.8" stroke-width="1.2" style="stroke:#444"/>
<line x1="342.5" y1="1686.2" x2="353.9" y2="1686.2" stroke-width="1.9"/>
<line x1="379.0" y1="1681.8" x2="390.4" y2="1681.8" stroke-width="1.2" style="stroke:#444"/>
<line x1="379.0" y1="1686.2" x2="390.4" y2="1686.2" stroke-width="1.9"/>
<text x="109.4" y="1370.1" font-size="17.20" text-anchor="start" textLength="24.1" lengthAdjust="spacingAndGlyphs">0.5</text>
<text x="109.4" y="1446.6" font-size="17.20" text-anchor="start" textLength="24.1" lengthAdjust="spacingAndGlyphs">0.4</text>
<text x="109.4" y="1523.4" font-size="17.20" text-anchor="start" textLength="24.1" lengthAdjust="spacingAndGlyphs">0.3</text>
<text x="109.4" y="1600.6" font-size="17.20" text-anchor="start" textLength="24.1" lengthAdjust="spacingAndGlyphs">0.2</text>
<text x="109.4" y="1676.2" font-size="17.20" text-anchor="start" textLength="24.1" lengthAdjust="spacingAndGlyphs">0.1</text>
<text x="109.4" y="1698.2" font-size="17.20" text-anchor="start" textLength="9.6" lengthAdjust="spacingAndGlyphs">0</text>
<text font-size="20.02"><tspan x="101.4" y="1726.5" textLength="30.8" lengthAdjust="spacingAndGlyphs">Adj</tspan> <tspan x="137.2" y="1726.5" textLength="11.0" lengthAdjust="spacingAndGlyphs">+</tspan></text>
<text x="265.1" y="1726.5" font-size="20.02" text-anchor="middle" textLength="23.2" lengthAdjust="spacingAndGlyphs">SV</text>
<text x="315.4" y="1726.5" font-size="20.02" text-anchor="middle" textLength="15.1" lengthAdjust="spacingAndGlyphs">Q</text>
<text x="367.7" y="1726.5" font-size="20.02" text-anchor="middle" textLength="49.3" lengthAdjust="spacingAndGlyphs">SV+Q</text>
<text transform="translate(59.4 1711.6) rotate(-90)" font-size="20.68"><tspan x="0.0" y="0.0" textLength="112.6" lengthAdjust="spacingAndGlyphs">Multivariate</tspan> <tspan x="117.6" y="0.0" textLength="78.9" lengthAdjust="spacingAndGlyphs">adjusted</tspan> <tspan x="201.4" y="0.0" textLength="12.0" lengthAdjust="spacingAndGlyphs">β</tspan> <tspan x="218.4" y="0.0" textLength="18.8" lengthAdjust="spacingAndGlyphs">of</tspan> <tspan x="242.1" y="0.0" textLength="113.5" lengthAdjust="spacingAndGlyphs">Relationship</tspan></text>
<text transform="translate(85.6 1667.0) rotate(-90)" font-size="20.68"><tspan x="0.0" y="0.0" textLength="82.3" lengthAdjust="spacingAndGlyphs">Between</tspan> <tspan x="87.3" y="0.0" textLength="46.4" lengthAdjust="spacingAndGlyphs">LVMI</tspan> <tspan x="138.8" y="0.0" textLength="35.0" lengthAdjust="spacingAndGlyphs">and</tspan> <tspan x="178.8" y="0.0" textLength="55.9" lengthAdjust="spacingAndGlyphs">Aortic</tspan> <tspan x="239.7" y="0.0" textLength="23.8" lengthAdjust="spacingAndGlyphs">PP</tspan></text>
<text x="217.3" y="1411.2" font-size="30.5" text-anchor="middle" textLength="26.0" lengthAdjust="spacingAndGlyphs">**</text>
<text x="316.8" y="1417.9" font-size="30.5" text-anchor="middle" textLength="26.0" lengthAdjust="spacingAndGlyphs">**</text>
<text x="265.8" y="1568.8" font-size="30.5" text-anchor="middle" textLength="13.6" lengthAdjust="spacingAndGlyphs">*</text>
<text x="266.4" y="1540.1" font-size="33.8" text-anchor="middle" textLength="14.2" lengthAdjust="spacingAndGlyphs" class="D">†</text>
<text x="365.5" y="1578.1" font-size="30.5" text-anchor="middle" textLength="13.6" lengthAdjust="spacingAndGlyphs">*</text>
<text x="366.4" y="1549.5" font-size="33.8" text-anchor="middle" textLength="14.2" lengthAdjust="spacingAndGlyphs" class="D">†</text>
<line x1="590.5" y1="1362.4" x2="590.5" y2="1695.5" stroke-width="3.0"/>
<line x1="583.0" y1="1695.6" x2="875.5" y2="1695.6" stroke-width="1.9"/>
<line x1="583.0" y1="1363.2" x2="590.5" y2="1363.2" stroke-width="1.6"/>
<line x1="583.0" y1="1439.9" x2="590.5" y2="1439.9" stroke-width="1.6"/>
<line x1="583.0" y1="1517.0" x2="590.5" y2="1517.0" stroke-width="1.6"/>
<line x1="583.0" y1="1594.8" x2="590.5" y2="1594.8" stroke-width="1.6"/>
<line x1="583.0" y1="1671.9" x2="590.5" y2="1671.9" stroke-width="1.6"/>
<line x1="658.1" y1="1470.8" x2="658.1" y2="1409.1" stroke-width="2.0"/>
<line x1="652.5" y1="1409.1" x2="663.7" y2="1409.1" stroke-width="1.4"/>
<rect x="639.6" y="1470.8" width="36.8" height="224.7" fill="#fff" stroke="#000" stroke-width="1.6"/>
<line x1="676.1" y1="1470.0" x2="676.1" y2="1695.5" stroke-width="2.2"/>
<line x1="708.6" y1="1641.0" x2="708.6" y2="1579.5" stroke-width="3.0"/>
<line x1="703.0" y1="1579.5" x2="714.2" y2="1579.5" stroke-width="1.4"/>
<rect x="689.8" y="1641.0" width="36.8" height="54.5" fill="url(#h1)" stroke="#000" stroke-width="1.6"/>
<line x1="726.3" y1="1640.2" x2="726.3" y2="1695.5" stroke-width="2.2"/>
<line x1="758.3" y1="1478.9" x2="758.3" y2="1417.1" stroke-width="2.0"/>
<line x1="752.7" y1="1417.1" x2="763.9" y2="1417.1" stroke-width="1.4"/>
<rect x="739.5" y="1478.9" width="36.7" height="216.6" fill="url(#h2)" stroke="#000" stroke-width="1.6"/>
<line x1="775.9" y1="1478.1" x2="775.9" y2="1695.5" stroke-width="2.2"/>
<line x1="807.9" y1="1639.9" x2="807.9" y2="1577.9" stroke-width="3.0"/>
<line x1="802.3" y1="1577.9" x2="813.5" y2="1577.9" stroke-width="1.4"/>
<rect x="789.7" y="1639.9" width="36.5" height="55.6" fill="url(#h3)" stroke="#000" stroke-width="1.6"/>
<line x1="825.9" y1="1639.1" x2="825.9" y2="1695.5" stroke-width="2.2"/>
<rect x="633.5" y="1682.5" width="199.0" height="2.9" fill="#fff"/>
<rect x="583.5" y="1682.5" width="14.0" height="2.9" fill="#fff"/>
<line x1="584.8" y1="1681.8" x2="596.2" y2="1681.8" stroke-width="1.2" style="stroke:#444"/>
<line x1="584.8" y1="1686.2" x2="596.2" y2="1686.2" stroke-width="1.9"/>
<line x1="633.9" y1="1681.8" x2="645.3" y2="1681.8" stroke-width="1.2" style="stroke:#444"/>
<line x1="633.9" y1="1686.2" x2="645.3" y2="1686.2" stroke-width="1.9"/>
<line x1="670.7" y1="1681.8" x2="682.1" y2="1681.8" stroke-width="1.2" style="stroke:#444"/>
<line x1="670.7" y1="1686.2" x2="682.1" y2="1686.2" stroke-width="1.9"/>
<line x1="684.1" y1="1681.8" x2="695.5" y2="1681.8" stroke-width="1.2" style="stroke:#444"/>
<line x1="684.1" y1="1686.2" x2="695.5" y2="1686.2" stroke-width="1.9"/>
<line x1="720.9" y1="1681.8" x2="732.3" y2="1681.8" stroke-width="1.2" style="stroke:#444"/>
<line x1="720.9" y1="1686.2" x2="732.3" y2="1686.2" stroke-width="1.9"/>
<line x1="733.8" y1="1681.8" x2="745.2" y2="1681.8" stroke-width="1.2" style="stroke:#444"/>
<line x1="733.8" y1="1686.2" x2="745.2" y2="1686.2" stroke-width="1.9"/>
<line x1="770.5" y1="1681.8" x2="781.9" y2="1681.8" stroke-width="1.2" style="stroke:#444"/>
<line x1="770.5" y1="1686.2" x2="781.9" y2="1686.2" stroke-width="1.9"/>
<line x1="784.0" y1="1681.8" x2="795.4" y2="1681.8" stroke-width="1.2" style="stroke:#444"/>
<line x1="784.0" y1="1686.2" x2="795.4" y2="1686.2" stroke-width="1.9"/>
<line x1="820.5" y1="1681.8" x2="831.9" y2="1681.8" stroke-width="1.2" style="stroke:#444"/>
<line x1="820.5" y1="1686.2" x2="831.9" y2="1686.2" stroke-width="1.9"/>
<text x="518.6" y="1370.1" font-size="17.20" text-anchor="start" textLength="52.8" lengthAdjust="spacingAndGlyphs">0.0035</text>
<text x="518.6" y="1446.6" font-size="17.20" text-anchor="start" textLength="52.8" lengthAdjust="spacingAndGlyphs">0.0030</text>
<text x="518.6" y="1523.4" font-size="17.20" text-anchor="start" textLength="52.8" lengthAdjust="spacingAndGlyphs">0.0025</text>
<text x="518.6" y="1600.6" font-size="17.20" text-anchor="start" textLength="52.8" lengthAdjust="spacingAndGlyphs">0.0020</text>
<text x="518.6" y="1676.2" font-size="17.20" text-anchor="start" textLength="52.8" lengthAdjust="spacingAndGlyphs">0.0015</text>
<text x="518.6" y="1698.0" font-size="17.20" text-anchor="start" textLength="9.6" lengthAdjust="spacingAndGlyphs">0</text>
<text font-size="20.02"><tspan x="542.6" y="1725.2" textLength="30.8" lengthAdjust="spacingAndGlyphs">Adj</tspan> <tspan x="578.4" y="1725.2" textLength="11.0" lengthAdjust="spacingAndGlyphs">+</tspan></text>
<text x="706.5" y="1725.2" font-size="20.02" text-anchor="middle" textLength="23.2" lengthAdjust="spacingAndGlyphs">SV</text>
<text x="756.6" y="1725.2" font-size="20.02" text-anchor="middle" textLength="15.1" lengthAdjust="spacingAndGlyphs">Q</text>
<text x="808.6" y="1725.2" font-size="20.02" text-anchor="middle" textLength="49.3" lengthAdjust="spacingAndGlyphs">SV+Q</text>
<text transform="translate(482.6 1715.0) rotate(-90)" font-size="20.68"><tspan x="0.0" y="0.0" textLength="112.6" lengthAdjust="spacingAndGlyphs">Multivariate</tspan> <tspan x="117.6" y="0.0" textLength="78.9" lengthAdjust="spacingAndGlyphs">adjusted</tspan> <tspan x="201.4" y="0.0" textLength="12.0" lengthAdjust="spacingAndGlyphs">β</tspan> <tspan x="218.4" y="0.0" textLength="18.8" lengthAdjust="spacingAndGlyphs">of</tspan> <tspan x="242.1" y="0.0" textLength="113.5" lengthAdjust="spacingAndGlyphs">Relationship</tspan></text>
<text transform="translate(508.4 1672.3) rotate(-90)" font-size="20.68"><tspan x="0.0" y="0.0" textLength="81.1" lengthAdjust="spacingAndGlyphs">Between</tspan> <tspan x="86.0" y="0.0" textLength="50.1" lengthAdjust="spacingAndGlyphs">MWT</tspan> <tspan x="141.1" y="0.0" textLength="34.5" lengthAdjust="spacingAndGlyphs">and</tspan> <tspan x="180.5" y="0.0" textLength="55.1" lengthAdjust="spacingAndGlyphs">Aortic</tspan> <tspan x="240.6" y="0.0" textLength="23.4" lengthAdjust="spacingAndGlyphs">PP</tspan></text>
<text x="658.2" y="1413.6" font-size="30.5" text-anchor="middle" textLength="26.0" lengthAdjust="spacingAndGlyphs">**</text>
<text x="758.0" y="1421.1" font-size="30.5" text-anchor="middle" textLength="26.0" lengthAdjust="spacingAndGlyphs">**</text>
<text x="708.2" y="1582.2" font-size="30.5" text-anchor="middle" textLength="13.6" lengthAdjust="spacingAndGlyphs">*</text>
<text x="708.2" y="1552.6" font-size="28.8" text-anchor="middle" textLength="14.2" lengthAdjust="spacingAndGlyphs" class="D">†</text>
<text x="807.9" y="1581.6" font-size="30.5" text-anchor="middle" textLength="13.6" lengthAdjust="spacingAndGlyphs">*</text>
<text x="808.0" y="1552.6" font-size="28.8" text-anchor="middle" textLength="14.2" lengthAdjust="spacingAndGlyphs" class="D">†</text>
<line x1="1009.7" y1="1362.4" x2="1009.7" y2="1696.0" stroke-width="2.2"/>
<line x1="1002.2" y1="1696.0" x2="1294.8" y2="1696.0" stroke-width="2.2"/>
<line x1="1002.2" y1="1363.2" x2="1009.7" y2="1363.2" stroke-width="1.6"/>
<line x1="1002.2" y1="1400.2" x2="1009.7" y2="1400.2" stroke-width="1.6"/>
<line x1="1002.2" y1="1437.2" x2="1009.7" y2="1437.2" stroke-width="1.6"/>
<line x1="1002.2" y1="1474.1" x2="1009.7" y2="1474.1" stroke-width="1.6"/>
<line x1="1002.2" y1="1511.1" x2="1009.7" y2="1511.1" stroke-width="1.6"/>
<line x1="1002.2" y1="1548.1" x2="1009.7" y2="1548.1" stroke-width="1.6"/>
<line x1="1002.2" y1="1585.1" x2="1009.7" y2="1585.1" stroke-width="1.6"/>
<line x1="1002.2" y1="1622.1" x2="1009.7" y2="1622.1" stroke-width="1.6"/>
<line x1="1002.2" y1="1659.0" x2="1009.7" y2="1659.0" stroke-width="1.6"/>
<line x1="1077.7" y1="1507.9" x2="1077.7" y2="1452.6" stroke-width="2.9"/>
<line x1="1072.1" y1="1452.6" x2="1083.3" y2="1452.6" stroke-width="1.4"/>
<rect x="1059.9" y="1507.9" width="35.2" height="188.1" fill="#fff" stroke="#000" stroke-width="1.8"/>
<line x1="1127.3" y1="1481.5" x2="1127.3" y2="1426.5" stroke-width="2.9"/>
<line x1="1121.7" y1="1426.5" x2="1132.9" y2="1426.5" stroke-width="1.4"/>
<rect x="1109.6" y="1481.5" width="35.7" height="214.5" fill="url(#h1)" stroke="#000" stroke-width="1.8"/>
<line x1="1177.0" y1="1507.9" x2="1177.0" y2="1452.6" stroke-width="2.9"/>
<line x1="1171.4" y1="1452.6" x2="1182.6" y2="1452.6" stroke-width="1.4"/>
<rect x="1159.3" y="1507.9" width="35.7" height="188.1" fill="url(#h2)" stroke="#000" stroke-width="1.8"/>
<line x1="1227.2" y1="1467.3" x2="1227.2" y2="1411.5" stroke-width="2.9"/>
<line x1="1221.6" y1="1411.5" x2="1232.8" y2="1411.5" stroke-width="1.4"/>
<rect x="1208.9" y="1467.3" width="35.7" height="228.7" fill="url(#h3)" stroke="#000" stroke-width="1.8"/>
<line x1="1122.5" y1="1687.4" x2="1132.4" y2="1687.4" stroke-width="1.3"/>
<line x1="1223.7" y1="1687.4" x2="1231.2" y2="1687.4" stroke-width="1.3"/>
<text x="958.6" y="1405.3" font-size="17.20" text-anchor="start" textLength="33.7" lengthAdjust="spacingAndGlyphs">0.08</text>
<text x="958.6" y="1479.7" font-size="17.20" text-anchor="start" textLength="33.7" lengthAdjust="spacingAndGlyphs">0.06</text>
<text x="958.6" y="1553.8" font-size="17.20" text-anchor="start" textLength="33.7" lengthAdjust="spacingAndGlyphs">0.04</text>
<text x="958.6" y="1627.6" font-size="17.20" text-anchor="start" textLength="33.7" lengthAdjust="spacingAndGlyphs">0.02</text>
<text x="958.6" y="1701.6" font-size="17.20" text-anchor="start" textLength="9.6" lengthAdjust="spacingAndGlyphs">0</text>
<text font-size="20.02"><tspan x="963.8" y="1725.8" textLength="30.8" lengthAdjust="spacingAndGlyphs">Adj</tspan> <tspan x="999.6" y="1725.8" textLength="11.0" lengthAdjust="spacingAndGlyphs">+</tspan></text>
<text x="1127.6" y="1725.8" font-size="20.02" text-anchor="middle" textLength="23.2" lengthAdjust="spacingAndGlyphs">SV</text>
<text x="1177.8" y="1725.8" font-size="20.02" text-anchor="middle" textLength="15.1" lengthAdjust="spacingAndGlyphs">Q</text>
<text x="1229.6" y="1725.8" font-size="20.02" text-anchor="middle" textLength="49.3" lengthAdjust="spacingAndGlyphs">SV+Q</text>
<text transform="translate(923.5 1715.0) rotate(-90)" font-size="20.68"><tspan x="0.0" y="0.0" textLength="112.6" lengthAdjust="spacingAndGlyphs">Multivariate</tspan> <tspan x="117.6" y="0.0" textLength="78.9" lengthAdjust="spacingAndGlyphs">adjusted</tspan> <tspan x="201.4" y="0.0" textLength="12.0" lengthAdjust="spacingAndGlyphs">β</tspan> <tspan x="218.4" y="0.0" textLength="18.8" lengthAdjust="spacingAndGlyphs">of</tspan> <tspan x="242.1" y="0.0" textLength="113.5" lengthAdjust="spacingAndGlyphs">Relationship</tspan></text>
<text transform="translate(949.6 1665.5) rotate(-90)" font-size="20.68"><tspan x="0.0" y="0.0" textLength="83.5" lengthAdjust="spacingAndGlyphs">Between</tspan> <tspan x="88.6" y="0.0" textLength="37.5" lengthAdjust="spacingAndGlyphs">E/e’</tspan> <tspan x="131.2" y="0.0" textLength="35.5" lengthAdjust="spacingAndGlyphs">and</tspan> <tspan x="171.9" y="0.0" textLength="56.7" lengthAdjust="spacingAndGlyphs">Aortic</tspan> <tspan x="233.7" y="0.0" textLength="24.1" lengthAdjust="spacingAndGlyphs">PP</tspan></text>
<text x="1077.5" y="1455.2" font-size="30.5" text-anchor="middle" textLength="26.0" lengthAdjust="spacingAndGlyphs">**</text>
<text x="1127.1" y="1429.7" font-size="30.5" text-anchor="middle" textLength="26.0" lengthAdjust="spacingAndGlyphs">**</text>
<text x="1175.8" y="1456.5" font-size="30.5" text-anchor="middle" textLength="26.0" lengthAdjust="spacingAndGlyphs">**</text>
<text x="1226.2" y="1416.5" font-size="30.5" text-anchor="middle" textLength="26.0" lengthAdjust="spacingAndGlyphs">**</text>
<line x1="1440.6" y1="1369.9" x2="1440.6" y2="1702.7" stroke-width="2.2"/>
<line x1="1432.3" y1="1369.9" x2="1725.9" y2="1369.9" stroke-width="1.9"/>
<line x1="1432.3" y1="1436.2" x2="1440.6" y2="1436.2" stroke-width="1.6"/>
<line x1="1432.3" y1="1502.4" x2="1440.6" y2="1502.4" stroke-width="1.6"/>
<line x1="1432.3" y1="1569.0" x2="1440.6" y2="1569.0" stroke-width="1.6"/>
<line x1="1432.3" y1="1635.7" x2="1440.6" y2="1635.7" stroke-width="1.6"/>
<line x1="1432.3" y1="1701.9" x2="1440.6" y2="1701.9" stroke-width="1.6"/>
<line x1="1507.8" y1="1543.2" x2="1507.8" y2="1609.8" stroke-width="2.0"/>
<line x1="1502.2" y1="1609.8" x2="1513.4" y2="1609.8" stroke-width="1.4"/>
<rect x="1490.0" y="1369.9" width="35.8" height="173.3" fill="#fff" stroke="#000" stroke-width="2.1"/>
<line x1="1558.0" y1="1576.2" x2="1558.0" y2="1642.8" stroke-width="2.0"/>
<line x1="1552.4" y1="1642.8" x2="1563.6" y2="1642.8" stroke-width="1.4"/>
<rect x="1539.7" y="1369.9" width="35.8" height="206.3" fill="url(#h1)" stroke="#000" stroke-width="2.1"/>
<line x1="1607.2" y1="1543.2" x2="1607.2" y2="1609.8" stroke-width="2.0"/>
<line x1="1601.6" y1="1609.8" x2="1612.8" y2="1609.8" stroke-width="1.4"/>
<rect x="1589.4" y="1369.9" width="36.3" height="173.3" fill="url(#h2)" stroke="#000" stroke-width="2.1"/>
<line x1="1657.9" y1="1582.9" x2="1657.9" y2="1649.3" stroke-width="2.0"/>
<line x1="1652.3" y1="1649.3" x2="1663.5" y2="1649.3" stroke-width="1.4"/>
<rect x="1639.4" y="1369.9" width="36.0" height="213.0" fill="url(#h3)" stroke="#000" stroke-width="2.1"/>
<text x="1382.6" y="1379.8" font-size="17.20" text-anchor="start" textLength="9.6" lengthAdjust="spacingAndGlyphs">0</text>
<text x="1382.6" y="1445.0" font-size="17.20" text-anchor="start" textLength="39.5" lengthAdjust="spacingAndGlyphs">-0.01</text>
<text x="1382.6" y="1511.1" font-size="17.20" text-anchor="start" textLength="39.5" lengthAdjust="spacingAndGlyphs">-0.02</text>
<text x="1382.6" y="1576.6" font-size="17.20" text-anchor="start" textLength="39.5" lengthAdjust="spacingAndGlyphs">-0.03</text>
<text x="1382.6" y="1642.9" font-size="17.20" text-anchor="start" textLength="39.5" lengthAdjust="spacingAndGlyphs">-0.04</text>
<text x="1382.6" y="1708.4" font-size="17.20" text-anchor="start" textLength="39.5" lengthAdjust="spacingAndGlyphs">-0.05</text>
<text font-size="20.02"><tspan x="1396.5" y="1354.8" textLength="30.8" lengthAdjust="spacingAndGlyphs">Adj</tspan> <tspan x="1432.3" y="1354.8" textLength="11.0" lengthAdjust="spacingAndGlyphs">+</tspan></text>
<text x="1560.7" y="1354.8" font-size="20.02" text-anchor="middle" textLength="23.2" lengthAdjust="spacingAndGlyphs">SV</text>
<text x="1610.6" y="1354.8" font-size="20.02" text-anchor="middle" textLength="15.1" lengthAdjust="spacingAndGlyphs">Q</text>
<text x="1662.7" y="1354.8" font-size="20.02" text-anchor="middle" textLength="49.3" lengthAdjust="spacingAndGlyphs">SV+Q</text>
<text transform="translate(1344.3 1718.0) rotate(-90)" font-size="20.68"><tspan x="0.0" y="0.0" textLength="112.6" lengthAdjust="spacingAndGlyphs">Multivariate</tspan> <tspan x="117.6" y="0.0" textLength="78.9" lengthAdjust="spacingAndGlyphs">adjusted</tspan> <tspan x="201.4" y="0.0" textLength="12.0" lengthAdjust="spacingAndGlyphs">β</tspan> <tspan x="218.4" y="0.0" textLength="18.8" lengthAdjust="spacingAndGlyphs">of</tspan> <tspan x="242.1" y="0.0" textLength="113.5" lengthAdjust="spacingAndGlyphs">Relationship</tspan></text>
<text transform="translate(1371.1 1656.3) rotate(-90)" font-size="20.68"><tspan x="0.0" y="0.0" textLength="81.1" lengthAdjust="spacingAndGlyphs">Between</tspan> <tspan x="86.0" y="0.0" textLength="16.7" lengthAdjust="spacingAndGlyphs">e’</tspan> <tspan x="107.8" y="0.0" textLength="34.5" lengthAdjust="spacingAndGlyphs">and</tspan> <tspan x="147.2" y="0.0" textLength="55.1" lengthAdjust="spacingAndGlyphs">Aortic</tspan> <tspan x="207.2" y="0.0" textLength="23.4" lengthAdjust="spacingAndGlyphs">PP</tspan></text>
<text x="1507.0" y="1637.4" font-size="30.5" text-anchor="middle" textLength="13.6" lengthAdjust="spacingAndGlyphs">*</text>
<text x="1558.0" y="1670.4" font-size="30.5" text-anchor="middle" textLength="13.6" lengthAdjust="spacingAndGlyphs">*</text>
<text x="1607.8" y="1637.4" font-size="30.5" text-anchor="middle" textLength="13.6" lengthAdjust="spacingAndGlyphs">*</text>
<text x="1657.8" y="1677.7" font-size="30.5" text-anchor="middle" textLength="13.6" lengthAdjust="spacingAndGlyphs">*</text>
</svg>
</body></html>
